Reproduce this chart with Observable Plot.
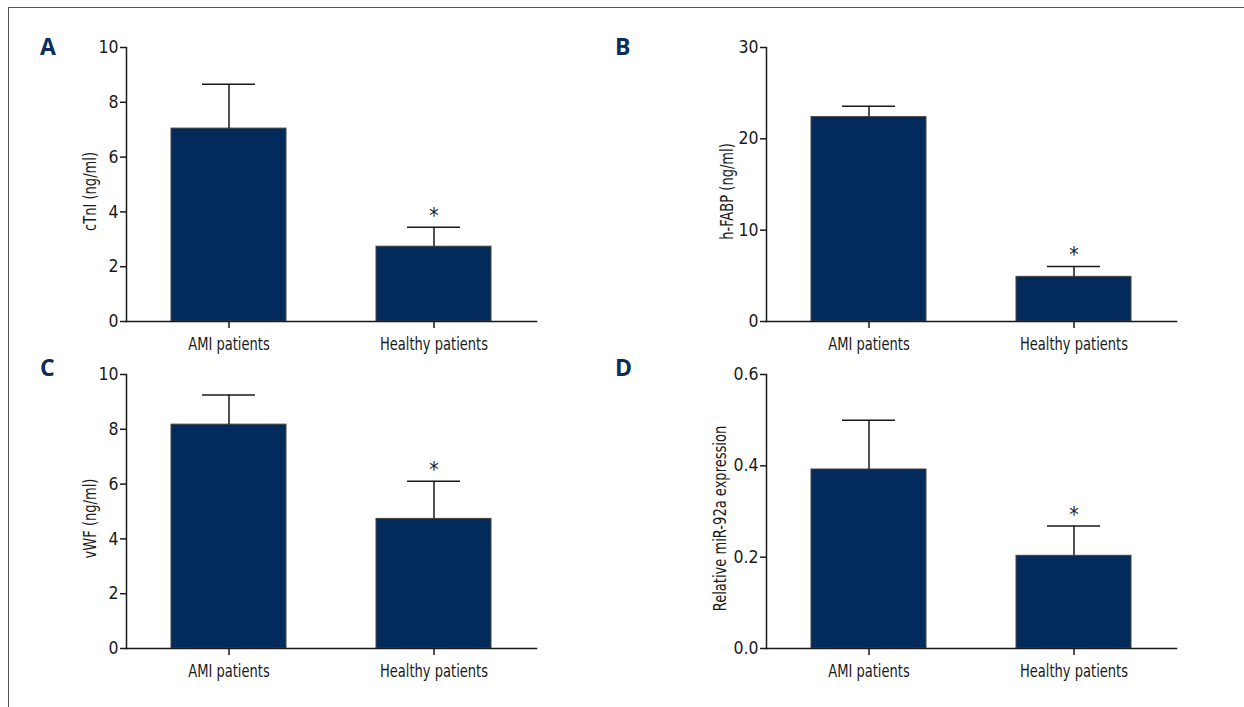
<!DOCTYPE html>
<html><head><meta charset="utf-8">
<script src="https://cdn.jsdelivr.net/npm/d3@7"></script>
<script src="https://cdn.jsdelivr.net/npm/@observablehq/plot@0.6"></script>
<style>
body{margin:0;background:#fff;overflow:hidden}
#wrap{position:relative;width:1244px;height:707px;overflow:hidden;background:#fff}
#border{position:absolute;left:8px;top:7px;width:1300px;height:800px;border:1px solid #555;box-sizing:border-box}
.panel{position:absolute}
.letter{position:absolute;font-family:"Open Sans","Liberation Sans",sans-serif;font-weight:700;font-size:23px;color:#0b2d5b;line-height:1}
</style></head><body><div id="wrap"><div id="border"></div></div>
<script>
const groups = ["AMI patients", "Healthy patients"];

const cTnIMean = [7.04, 2.73];
const cTnIErr  = [1.62, 0.71];
const hFABPMean = [22.38, 4.89];
const hFABPErr  = [1.20, 1.13];
const vWFMean = [8.17, 4.73];
const vWFErr  = [1.08, 1.37];
const miRMean = [0.392, 0.203];
const miRErr  = [0.108, 0.065];
const significant = [false, true];

const yLabels = ["cTnI (ng/ml)", "h-FABP (ng/ml)", "vWF (ng/ml)", "Relative miR-92a expression"];
const yTicksA = [0, 2, 4, 6, 8, 10];
const yTicksB = [0, 10, 20, 30];
const yTicksC = [0, 2, 4, 6, 8, 10];
const yTicksD = [0, 0.2, 0.4, 0.6];
const panelLetters = ["A", "B", "C", "D"];

const FONT = '"DejaVu Sans Condensed","Liberation Sans Narrow",sans-serif';
const INK = "#1a1a1a";
const NARROW = 0.83;

function makePanel(means, errs, yLabel, yDomain, yTicks, tickFormat, mT, mB, labelDx) {
  const rows = groups.map((g, i) => ({group: g, mean: means[i], top: means[i] + errs[i], sig: significant[i]}));
  const svg = Plot.plot({
    width: 560,
    height: mT + 274 + mB,
    marginLeft: 126, marginRight: 24, marginTop: mT, marginBottom: mB,
    style: {background: "transparent", fontFamily: FONT, fontSize: "17.5px", color: INK, overflow: "visible"},
    x: {domain: groups, paddingInner: 0.44, paddingOuter: 0.22, label: null},
    y: {domain: yDomain, label: null},
    marks: [
      Plot.barY(rows, {x: "group", y: "mean", fill: "#022a5a", stroke: "#444", strokeWidth: 1}),
      Plot.ruleX(rows, {x: "group", y1: "mean", y2: "top", stroke: INK, strokeWidth: 1.5}),
      Plot.tickY(rows, {x: "group", y: "top", inset: 31, stroke: INK, strokeWidth: 1.5}),
      Plot.text(rows.filter(d => d.sig), {x: "group", y: "top", text: () => "*", dy: -11, fontSize: 21, fill: INK}),
      Plot.axisY({ticks: yTicks, tickFormat, tickSize: 6, tickPadding: 2, fontSize: 17.5, label: null, strokeWidth: 1.5}),
      Plot.axisX({tickSize: 7, tickPadding: 9, fontSize: 17.5, label: null, strokeWidth: 1.5}),
      Plot.frame({anchor: "left", strokeWidth: 1.5, stroke: INK}),
      Plot.frame({anchor: "bottom", strokeWidth: 1.5, stroke: INK}),
      Plot.text([yLabel], {frameAnchor: "left", textAnchor: "middle", rotate: -90, dx: labelDx, dy: 7, fontSize: 17.5, text: d => d, fill: INK})
    ]
  });
  // condense category labels and the axis title horizontally (narrow typeface look)
  svg.querySelectorAll("text").forEach(t => {
    const g = t.closest("g");
    if (g && g.getAttribute("aria-label") === "y-axis tick label") return;
    if (t.textContent === "*") return;
    let tr = t.getAttribute("transform") || "";
    const x = t.getAttribute("x");
    if (x !== null && /^-?[\d.]+$/.test(x)) {
      tr = `translate(${x},0) ` + tr;
      t.removeAttribute("x");
    }
    t.setAttribute("transform", (tr + ` scale(${NARROW},1)`).trim());
  });
  return svg;
}

const wrap = document.getElementById("wrap");
const specs = [
  {el: makePanel(cTnIMean, cTnIErr, yLabels[0], [0, 10], yTicksA, d3.format("d"), 47, 39, -36), left: 0, top: 0},
  {el: makePanel(hFABPMean, hFABPErr, yLabels[1], [0, 30], yTicksB, d3.format("d"), 47, 39, -39), left: 640, top: 0},
  {el: makePanel(vWFMean, vWFErr, yLabels[2], [0, 10], yTicksC, d3.format("d"), 14, 59, -36), left: 0, top: 360},
  {el: makePanel(miRMean, miRErr, yLabels[3], [0, 0.6], yTicksD, d3.format(".1f"), 14, 59, -46), left: 640, top: 360}
];
specs.forEach(s => {
  s.el.classList.add("panel");
  s.el.style.left = s.left + "px";
  s.el.style.top = s.top + "px";
  s.el.style.position = "absolute";
  wrap.appendChild(s.el);
});
const letterPos = [[40, 35], [615, 35], [40, 356], [615, 356]];
panelLetters.forEach((t, i) => {
  const d = document.createElement("div");
  d.className = "letter";
  d.textContent = t;
  d.style.left = letterPos[i][0] + "px";
  d.style.top = letterPos[i][1] + "px";
  wrap.appendChild(d);
});
</script></body></html>
